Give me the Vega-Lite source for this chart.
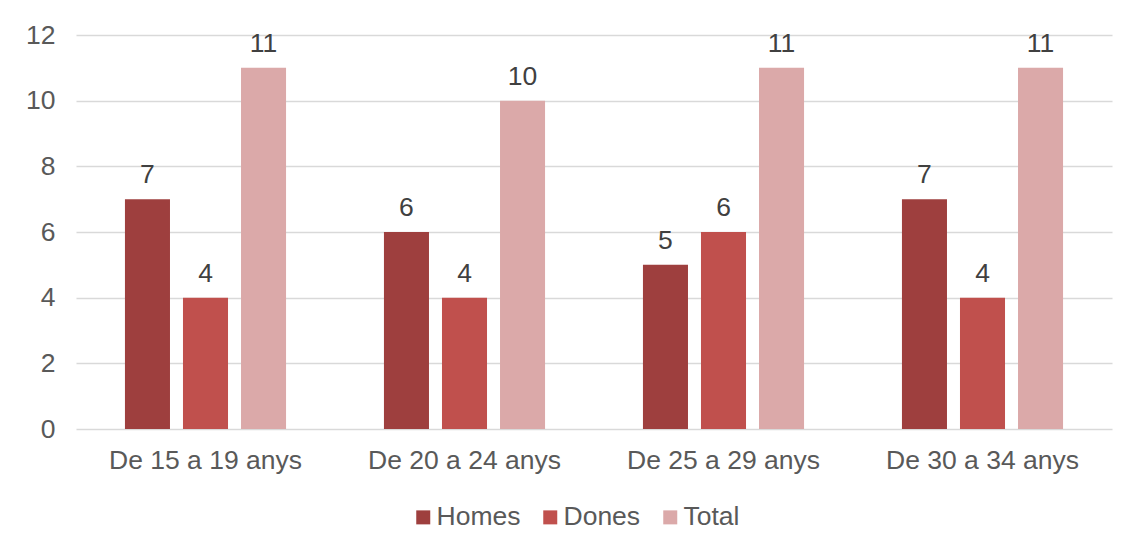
{
  "$schema": "https://vega.github.io/schema/vega-lite/v6.json",
  "width": 1036,
  "height": 394,
  "autosize": "none",
  "padding": {"left": 76, "top": 35, "right": 19, "bottom": 121},
  "background": "white",
  "data": {
    "values": [
      {"grup": "De 15 a 19 anys", "serie": "Homes", "valor": 7},
      {"grup": "De 15 a 19 anys", "serie": "Dones", "valor": 4},
      {"grup": "De 15 a 19 anys", "serie": "Total", "valor": 11},
      {"grup": "De 20 a 24 anys", "serie": "Homes", "valor": 6},
      {"grup": "De 20 a 24 anys", "serie": "Dones", "valor": 4},
      {"grup": "De 20 a 24 anys", "serie": "Total", "valor": 10},
      {"grup": "De 25 a 29 anys", "serie": "Homes", "valor": 5},
      {"grup": "De 25 a 29 anys", "serie": "Dones", "valor": 6},
      {"grup": "De 25 a 29 anys", "serie": "Total", "valor": 11},
      {"grup": "De 30 a 34 anys", "serie": "Homes", "valor": 7},
      {"grup": "De 30 a 34 anys", "serie": "Dones", "valor": 4},
      {"grup": "De 30 a 34 anys", "serie": "Total", "valor": 11}
    ]
  },
  "encoding": {
    "x": {
      "field": "grup", "type": "nominal", "sort": null,
      "scale": {"paddingInner": 0.378, "paddingOuter": 0.189},
      "axis": {
        "title": null, "labelAngle": 0, "ticks": false, "domain": false,
        "labelFont": "Liberation Sans", "labelFontSize": 26.5, "labelColor": "#595959",
        "labelPadding": 18, "labelLimit": 0, "grid": false
      }
    },
    "xOffset": {
      "field": "serie", "type": "nominal", "sort": ["Homes", "Dones", "Total"],
      "scale": {"paddingInner": 0.224, "paddingOuter": 0}
    },
    "y": {
      "field": "valor", "type": "quantitative",
      "scale": {"domain": [0, 12], "nice": false},
      "axis": {
        "title": null, "values": [0, 2, 4, 6, 8, 10, 12], "ticks": false, "domain": false,
        "labelFont": "Liberation Sans", "labelFontSize": 26.5, "labelColor": "#595959",
        "labelPadding": 21, "gridColor": "#D9D9D9", "gridWidth": 1.5
      }
    }
  },
  "layer": [
    {
      "mark": {"type": "bar"},
      "encoding": {
        "color": {
          "field": "serie", "type": "nominal",
          "scale": {"domain": ["Homes", "Dones", "Total"], "range": ["#9E3F3E", "#C0504D", "#DBA9A9"]},
          "legend": {
            "title": null, "orient": "none", "direction": "horizontal",
            "legendX": 334, "legendY": 469,
            "symbolType": "square", "symbolSize": 196, "symbolStrokeWidth": 0,
            "labelFont": "Liberation Sans", "labelFontSize": 26.5, "labelColor": "#595959",
            "labelOffset": 0, "columnPadding": 16
          }
        }
      }
    },
    {
      "mark": {"type": "text", "dy": -16, "baseline": "alphabetic", "font": "Liberation Sans", "fontSize": 26.5, "color": "#404040"},
      "encoding": {"text": {"field": "valor", "type": "quantitative"}}
    }
  ],
  "config": {"view": {"stroke": null}}
}
